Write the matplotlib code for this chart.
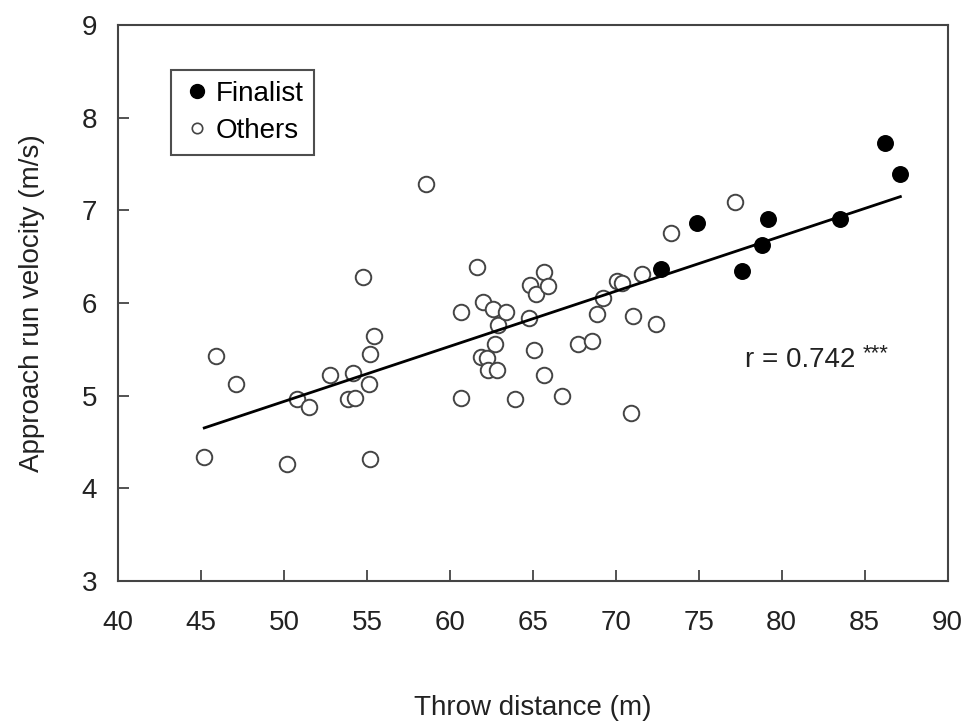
import matplotlib.pyplot as plt
import numpy as np
from matplotlib.lines import Line2D

# values
finalist_x = [72.7, 74.9, 77.6, 78.8, 79.15, 83.5, 86.2, 87.15]
finalist_y = [6.37, 6.86, 6.35, 6.63, 6.91, 6.91, 7.73, 7.39]

others_x = [45.2, 45.9, 47.1, 50.2, 50.8, 51.5, 52.8, 53.85, 54.15, 54.3,
            54.75, 55.2, 55.1, 55.2, 55.45, 58.55, 60.65, 60.65, 61.65, 62.0,
            61.9, 62.25, 62.3, 62.6, 62.7, 62.9, 62.85, 63.4, 63.9, 64.75,
            64.85, 65.1, 65.2, 65.7, 65.9, 65.65, 66.75, 67.7, 68.55, 68.85,
            69.25, 70.05, 70.35, 71.05, 70.9, 71.55, 72.45, 73.3, 77.2]
others_y = [4.34, 5.43, 5.13, 4.26, 4.96, 4.88, 5.22, 4.96, 5.24, 4.98,
            6.28, 5.45, 5.13, 4.32, 5.64, 7.28, 5.90, 4.98, 6.39, 6.01,
            5.42, 5.41, 5.28, 5.94, 5.56, 5.76, 5.28, 5.90, 4.96, 5.84,
            6.19, 5.49, 6.10, 6.33, 6.18, 5.22, 5.00, 5.56, 5.59, 5.88,
            6.05, 6.24, 6.22, 5.86, 4.81, 6.31, 5.77, 6.75, 7.09]

r_label = "r = 0.742"
sig_label = "***"

plt.rcParams['font.family'] = ['Liberation Sans', 'DejaVu Sans']

fig = plt.figure(figsize=(9.67, 7.24), dpi=100)
ax = fig.add_axes([0.122, 0.1975, 0.858, 0.768])

edge = '#444444'
txt = '#222222'
ax.scatter(others_x, others_y, s=125, facecolors='white', edgecolors=edge,
           linewidths=1.4, zorder=3)
ax.scatter(finalist_x, finalist_y, s=125, facecolors='black', edgecolors='black',
           linewidths=1.0, zorder=4)

# regression line over all throwers
all_x = np.array(others_x + finalist_x)
all_y = np.array(others_y + finalist_y)
slope, intercept = np.polyfit(all_x, all_y, 1)
xs = np.array([all_x.min(), all_x.max()])
ax.plot(xs, slope * xs + intercept, color='black', lw=2.0, zorder=5)

t = ax.text(77.8, 5.39, r_label, fontsize=20, va='center', ha='left', color=txt)
ax.annotate(sig_label, xy=(1, 0.72), xycoords=t, xytext=(5, 0),
            textcoords='offset points', fontsize=16, va='center', ha='left',
            color=txt)

ax.set_xlim(40, 90)
ax.set_ylim(3, 9)
ax.set_xticks(np.arange(40, 91, 5))
ax.set_yticks(np.arange(3, 10, 1))
ax.tick_params(direction='in', length=8, width=1.3, colors=edge,
               labelcolor=txt, labelsize=20)
ax.tick_params(axis='x', pad=21)
ax.tick_params(axis='y', pad=15)
for sp in ax.spines.values():
    sp.set_color(edge)
    sp.set_linewidth(1.5)

ax.set_xlabel('Throw distance (m)', fontsize=20, color=txt)
ax.set_ylabel('Approach run velocity (m/s)', fontsize=20, color=txt)
ax.xaxis.set_label_coords(0.5, -0.205)
ax.yaxis.set_label_coords(-0.088, 0.5)

handles = [
    Line2D([], [], marker='o', ls='none', markersize=10, markerfacecolor='black',
           markeredgecolor='black', label='Finalist'),
    Line2D([], [], marker='o', ls='none', markersize=7.5, markerfacecolor='white',
           markeredgecolor=edge, markeredgewidth=1.2, label='Others'),
]
leg = ax.legend(handles=handles, loc='upper left',
                bbox_to_anchor=(171 / 967, 1 - 70 / 724),
                bbox_transform=fig.transFigure, frameon=True, fancybox=False,
                fontsize=20, handletextpad=0.1, handlelength=1.1,
                borderpad=0.4, labelspacing=0.4, borderaxespad=0)
leg.get_frame().set_edgecolor(txt)
leg.get_frame().set_linewidth(1.5)

fig.savefig('out.png', dpi=100)
